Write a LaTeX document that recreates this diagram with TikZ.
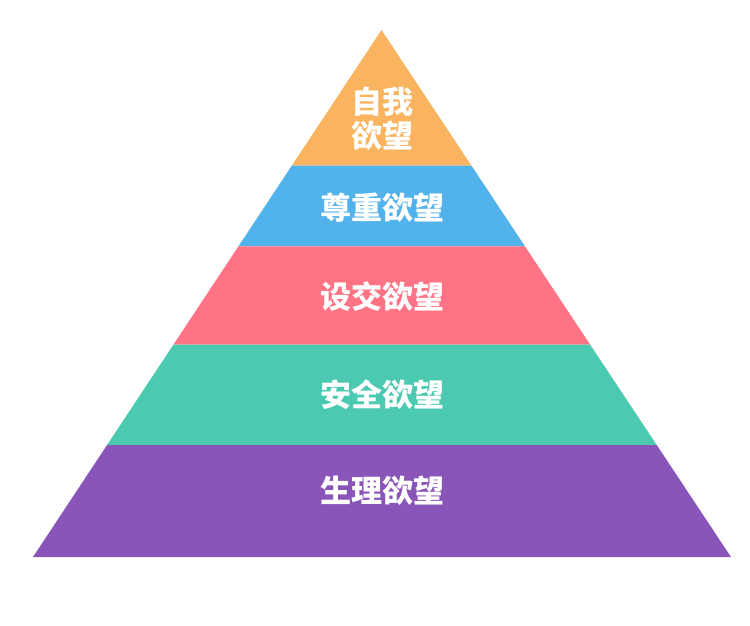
\documentclass[tikz,border=0pt]{standalone}
\usepackage{fontspec}
\newfontfamily\cjk{Noto Sans CJK SC}
\usetikzlibrary{calc}
\definecolor{cSelf}{HTML}{FAB45F}
\definecolor{cEsteem}{HTML}{52B2EB}
\definecolor{cSocial}{HTML}{FF7384}
\definecolor{cSafe}{HTML}{4BCAB1}
\definecolor{cBody}{HTML}{8A55B8}
\tikzset{
  layer/.style={draw=none},
  lbl/.style={text=white, font=\cjk\bfseries\fontsize{31}{38}\selectfont, align=center, inner sep=0pt}
}
\begin{document}
\begin{tikzpicture}[x=1pt,y=-1pt]
\useasboundingbox (0,0) rectangle (750,626);
\coordinate (apex) at (381.5,30);
\coordinate (bl) at (33,557);
\coordinate (br) at (731,557);
% layer boundary points
\coordinate (l1) at ($(apex)!0.25712!(bl)$);
\coordinate (r1) at ($(apex)!0.25712!(br)$);
\coordinate (l2) at ($(apex)!0.41082!(bl)$);
\coordinate (r2) at ($(apex)!0.41082!(br)$);
\coordinate (l3) at ($(apex)!0.59677!(bl)$);
\coordinate (r3) at ($(apex)!0.59677!(br)$);
\coordinate (l4) at ($(apex)!0.78748!(bl)$);
\coordinate (r4) at ($(apex)!0.78748!(br)$);
\fill[layer, cSelf] (apex) -- (r1) -- (l1) -- cycle;
\fill[layer, cEsteem] (l1) -- (r1) -- (r2) -- (l2) -- cycle;
\fill[layer, cSocial] (l2) -- (r2) -- (r3) -- (l3) -- cycle;
\fill[layer, cSafe] (l3) -- (r3) -- (r4) -- (l4) -- cycle;
\fill[layer, cBody] (l4) -- (r4) -- (br) -- (bl) -- cycle;
\node[lbl] (tself) at (382,119) {自我\\[-4pt]欲望};
\node[lbl] (testeem) at (382,208) {尊重欲望};
\node[lbl] (tsocial) at (382,297) {设交欲望};
\node[lbl] (tsafe) at (382,395) {安全欲望};
\node[lbl] (tbody) at (382,491) {生理欲望};
\end{tikzpicture}
\end{document}
